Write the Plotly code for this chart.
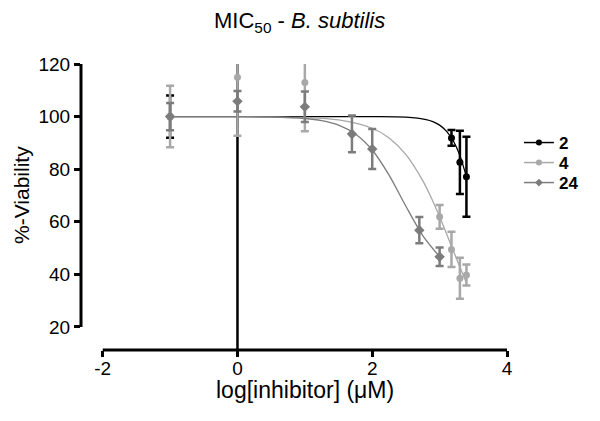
import plotly.graph_objects as go

# ---------------- data ----------------
series_names = ["2", "4", "24"]
series_colors = ["#000000", "#a8a8a8", "#7c7c7c"]
series_symbols = ["circle", "circle", "diamond"]

x_ticks = [-2, 0, 2, 4]
x_tick_labels = ["-2", "0", "2", "4"]
y_ticks = [20, 40, 60, 80, 100, 120]

# measured points (log concentration, mean %-viability, SD)
x_2 = [-1, 0, 3.176, 3.301, 3.398]
y_2 = [100, 125, 91.9, 82.6, 77.1]
e_2 = [8.0, 115.0, 3.0, 12.0, 15.2]

x_4 = [-1, 0, 1, 3.0, 3.176, 3.301, 3.398]
y_4 = [100, 115, 113, 61.9, 49.5, 38.5, 39.8]
e_4 = [11.7, 22.3, 18.6, 4.5, 6.7, 7.8, 4.0]

x_24 = [-1, 0, 1, 1.699, 2.0, 2.699, 3.0]
y_24 = [100, 105.8, 103.7, 93.4, 87.7, 56.8, 46.7]
e_24 = [5.2, 3.9, 5.8, 7.0, 7.6, 5.0, 3.5]

# fitted curves
curve_x_2 = [-1, 0, 1, 1.5, 2, 2.5, 2.8, 2.9, 3.0, 3.1, 3.2, 3.3, 3.4]
curve_y_2 = [100, 100, 100, 100, 99.99, 99.78, 98.89, 98.1, 96.75, 94.5, 90.9, 85.25, 76.9]

curve_x_4 = [-1, 0, 1, 1.5, 2, 2.25, 2.5, 2.75, 2.9, 3.0, 3.1, 3.2, 3.3, 3.4]
curve_y_4 = [100, 99.97, 99.65, 98.74, 95.57, 91.88, 85.56, 75.63, 67.8, 61.9, 55.66, 49.22, 42.81, 36.63]

curve_x_24 = [-1, 0, 0.5, 1.0, 1.25, 1.5, 1.75, 2.0, 2.25, 2.5, 2.75, 3.0]
curve_y_24 = [100, 99.97, 99.84, 99.28, 98.46, 96.75, 93.39, 87.3, 77.74, 65.91, 54.77, 46.7]

FONT = "Arial, Liberation Sans, sans-serif"

fig = go.Figure()

curves = [(curve_x_2, curve_y_2), (curve_x_4, curve_y_4), (curve_x_24, curve_y_24)]
points = [(x_2, y_2, e_2), (x_4, y_4, e_4), (x_24, y_24, e_24)]

for (cx, cy), col in zip(curves, series_colors):
    fig.add_trace(go.Scatter(x=cx, y=cy, mode="lines",
                             line=dict(color=col, width=1.3, shape="spline", smoothing=0.8),
                             showlegend=False, hoverinfo="skip"))

for (px, py, pe), col, sym in zip(points, series_colors, series_symbols):
    fig.add_trace(go.Scatter(x=px, y=py, mode="markers",
                             marker=dict(symbol=sym, size=8 if sym == "diamond" else 7, color=col),
                             error_y=dict(type="data", array=pe, color=col, thickness=2.5, width=4),
                             showlegend=False))

# legend entries (line + marker), one small legend per series so rows sit tightly
legend_ids = ["legend", "legend2", "legend3"]
for name, col, sym, lid in zip(series_names, series_colors, series_symbols, legend_ids):
    fig.add_trace(go.Scatter(x=[None], y=[None], mode="lines+markers", name=name, legend=lid,
                             line=dict(color=col, width=1.5),
                             marker=dict(symbol=sym, size=6, color=col)))

axis_common = dict(showline=False, showgrid=False, zeroline=False, ticks="outside",
                   ticklen=6, tickwidth=2.5, tickcolor="black",
                   tickfont=dict(family=FONT, size=19, color="black"), automargin=False)

legend_font = dict(family=FONT, size=17, color="black", weight="bold")
legend_common = dict(x=1.028, xanchor="left", yanchor="middle", bgcolor="rgba(0,0,0,0)",
                     font=legend_font)

fig.update_layout(
    width=600, height=421,
    margin=dict(l=73, r=101, t=56, b=79),
    plot_bgcolor="white", paper_bgcolor="white",
    font=dict(family=FONT, color="black"),
    title=dict(text="MIC<sub>50</sub> - <i>B. subtilis</i>", x=0.486, xanchor="center",
               y=1, yanchor="top", pad=dict(t=5), font=dict(family=FONT, size=22, color="black")),
    xaxis=dict(range=[-2.322, 4], tickvals=x_ticks, ticktext=x_tick_labels,
               ticklabelstandoff=-5, **axis_common),
    yaxis=dict(range=[11.25, 120], tickvals=y_ticks, **axis_common),
    legend=dict(y=0.7238, **legend_common),
    legend2=dict(y=0.6538, **legend_common),
    legend3=dict(y=0.5839, **legend_common),
    shapes=[
        dict(type="line", xref="paper", x0=0, x1=0, yref="y", y0=y_ticks[0], y1=y_ticks[-1],
             line=dict(color="black", width=3)),
        dict(type="line", xref="x", x0=x_ticks[0], x1=x_ticks[-1], yref="paper", y0=0, y1=0,
             line=dict(color="black", width=3)),
    ],
    annotations=[
        dict(text="log[inhibitor] (μM)", xref="paper", yref="paper", x=0.526, y=-0.14,
             xanchor="center", yanchor="middle", showarrow=False,
             font=dict(family=FONT, size=23, color="black")),
        dict(text="%-Viability", xref="paper", yref="paper", x=-0.1385, y=0.542,
             xanchor="center", yanchor="middle", showarrow=False, textangle=-90,
             font=dict(family=FONT, size=21, color="black")),
    ],
)

fig.write_html("out.html")
